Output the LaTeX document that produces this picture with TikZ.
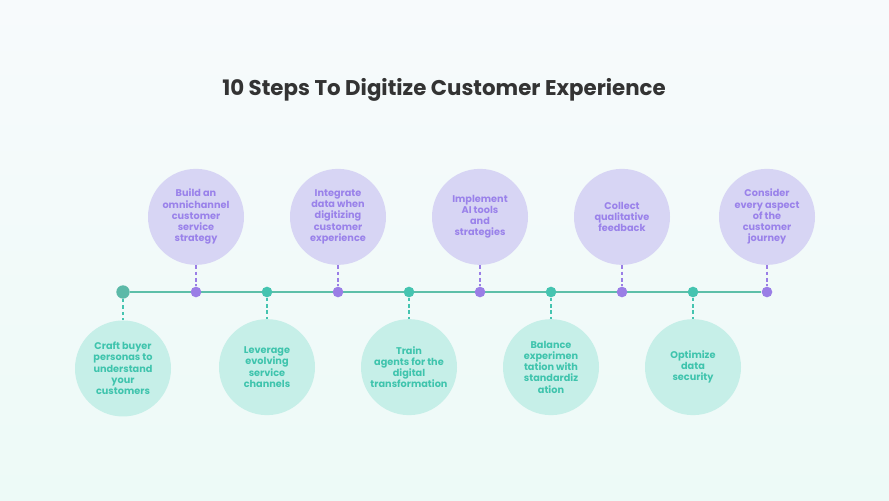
\documentclass[tikz,border=0pt]{standalone}
\usepackage{fontspec}
\setmainfont{Poppins}
\usepackage{xcolor}
\definecolor{bgtop}{HTML}{F7FAFC}
\definecolor{bgbot}{HTML}{EDFAF7}
\definecolor{lav}{HTML}{D7D5F4}
\definecolor{lavtext}{HTML}{9A82EA}
\definecolor{violetdot}{HTML}{9A7EE6}
\definecolor{mint}{HTML}{C6EFE8}
\definecolor{minttext}{HTML}{3FC4AD}
\definecolor{tealdot}{HTML}{45C4B0}
\definecolor{firstdot}{HTML}{5CB9A8}
\definecolor{tline}{HTML}{5DBFA9}
\definecolor{titlegray}{HTML}{333333}
\usetikzlibrary{
    positioning,
    backgrounds
}

\begin{document}
\begin{tikzpicture}[
    every text node part/.style={align=center},
    topcirc/.style={circle, fill=lav, text=lavtext, minimum size=2.88cm, inner sep=0pt, font=\fontsize{8.3}{9.6}\selectfont\bfseries},
    botcirc/.style={topcirc, fill=mint, text=minttext},
    vdot/.style={circle, fill=violetdot, minimum size=0.32cm, inner sep=0pt},
    tdot/.style={vdot, fill=tealdot},
    link/.style={draw=violetdot, line width=1pt, dash pattern=on 3pt off 2.5pt},
    tlink/.style={link, draw=tealdot}
]

\useasboundingbox (0,0) rectangle (26.67,15);

% ==================== TITLE ====================
\node[text=titlegray, font=\fontsize{18.2}{22}\selectfont\bfseries] (title) at (13.32,12.3) {10 Steps To Digitize Customer Experience};

% ==================== TIMELINE DOTS ====================
\node[tdot, fill=firstdot, minimum size=0.4cm] (d1) at (3.69,6.24) {};
\node[vdot] (d2) at (5.88,6.24) {};
\node[tdot] (d3) at (8.01,6.24) {};
\node[vdot] (d4) at (10.14,6.24) {};
\node[tdot] (d5) at (12.27,6.24) {};
\node[vdot] (d6) at (14.40,6.24) {};
\node[tdot] (d7) at (16.53,6.24) {};
\node[vdot] (d8) at (18.66,6.24) {};
\node[tdot] (d9) at (20.79,6.24) {};
\node[vdot] (d10) at (23.01,6.24) {};

% ==================== TOP STEPS ====================
\node[topcirc, above=0.64cm of d2] (s2) {Build an\\omnichannel\\customer\\service\\strategy};
\node[topcirc, above=0.64cm of d4] (s4) {Integrate\\data when\\digitizing\\customer\\experience};
\node[topcirc, above=0.64cm of d6] (s6) {Implement\\AI tools\\and\\strategies};
\node[topcirc, above=0.64cm of d8] (s8) {Collect\\qualitative\\feedback};
\node[topcirc, above=0.64cm of d10] (s10) {Consider\\every aspect\\of the\\customer\\journey};

\draw[link] (s2) -- (d2);
\draw[link] (s4) -- (d4);
\draw[link] (s6) -- (d6);
\draw[link] (s8) -- (d8);
\draw[link] (s10) -- (d10);

% ==================== BOTTOM STEPS ====================
\node[botcirc, below=0.64cm of d1] (s1) {Craft buyer\\personas to\\understand\\your\\customers};
\node[botcirc, below=0.64cm of d3] (s3) {Leverage\\evolving\\service\\channels};
\node[botcirc, below=0.64cm of d5] (s5) {Train\\agents for the\\digital\\transformation};
\node[botcirc, below=0.64cm of d7] (s7) {Balance\\experimen\\tation with\\standardiz\\ation};
\node[botcirc, below=0.64cm of d9] (s9) {Optimize\\data\\security};

\draw[tlink] (d1) -- (s1);
\draw[tlink] (d3) -- (s3);
\draw[tlink] (d5) -- (s5);
\draw[tlink] (d7) -- (s7);
\draw[tlink] (d9) -- (s9);

% ==================== BACKGROUND & LINE ====================
\begin{scope}[on background layer]
\shade[top color=bgtop, bottom color=bgbot] (0,0) rectangle (26.67,15);
\draw[tline, line width=2.4pt] (d1) -- (d10);
\end{scope}

\end{tikzpicture}
\end{document}
